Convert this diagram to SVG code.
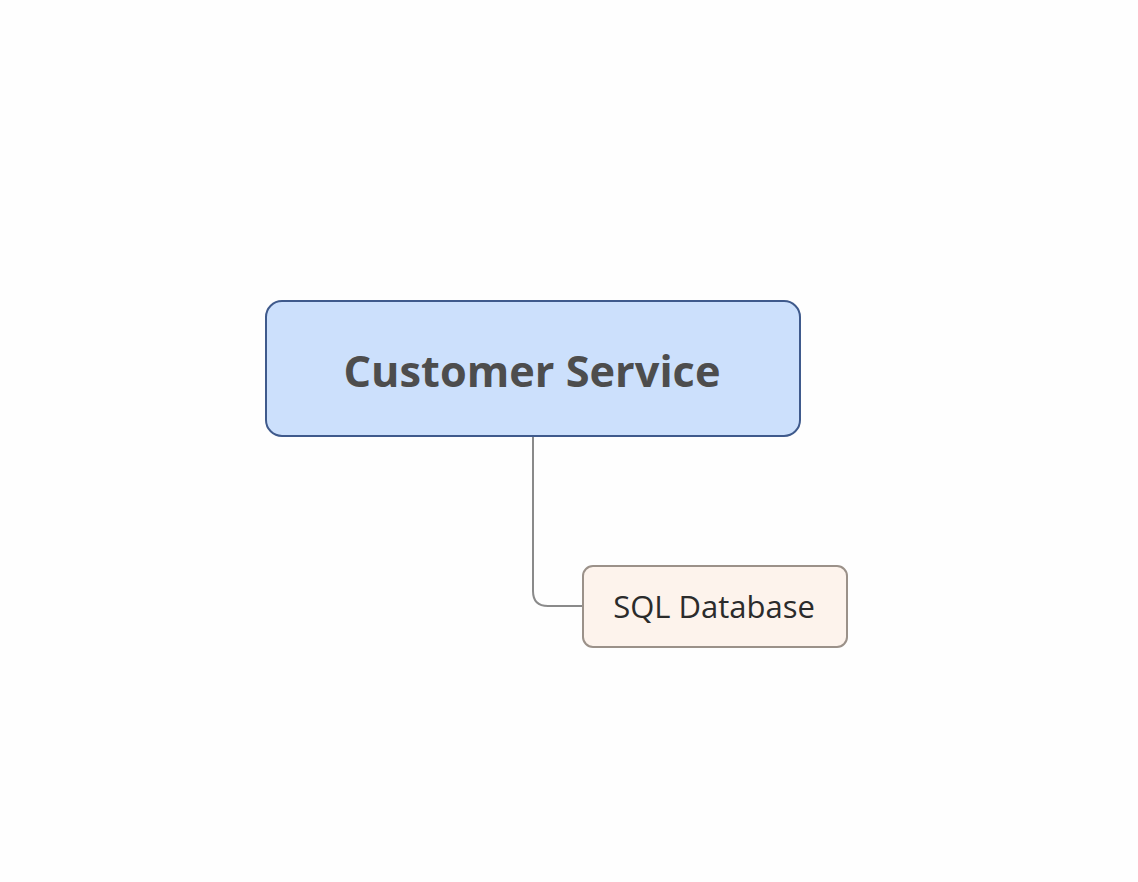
<svg xmlns="http://www.w3.org/2000/svg" width="1138" height="882" viewBox="0 0 1138 882">
<style>
.t{font-family:"Open Sans","Noto Sans","Liberation Sans",sans-serif}
</style>
<rect width="1138" height="882" fill="#fefefe"/>
<g id="connectors">
<path d="M533 436 V591 Q533 606 548 606 H583" fill="none" stroke="#8a8a8a" stroke-width="2"/>
</g>
<g id="node-customer-service">
<rect x="266" y="301" width="534" height="135" rx="16" fill="#cce0fc" stroke="#3f5a8c" stroke-width="2"/>
<text class="t" x="532" y="387" text-anchor="middle" font-size="43.3" font-weight="bold" fill="#4d4d4d">Customer Service</text>
</g>
<g id="node-sql-database">
<rect x="583" y="566" width="264" height="81" rx="10" fill="#fdf3ec" stroke="#9b9189" stroke-width="2"/>
<text class="t" x="714" y="618" text-anchor="middle" font-size="31" fill="#2b2b2b">SQL Database</text>
</g>
</svg>
